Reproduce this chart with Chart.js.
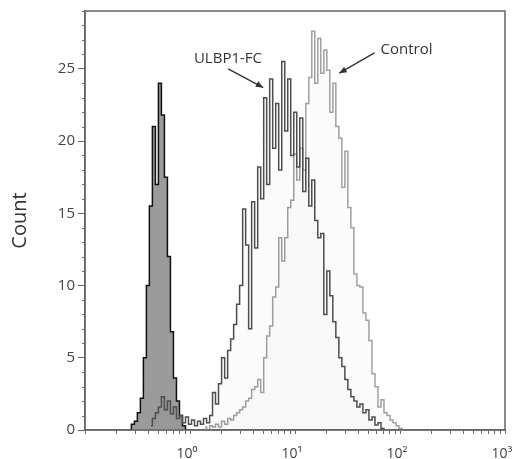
<!DOCTYPE html>
<html>
<head>
<meta charset="utf-8">
<script src="https://cdn.jsdelivr.net/npm/chart.js@4/dist/chart.umd.min.js"></script>
<style>
  html, body { margin: 0; padding: 0; background: #fff; }
  #wrap { width: 514px; height: 459px; }
</style>
</head>
<body>
<div id="wrap"><canvas id="c"></canvas></div>
<script>
// fluorescence channels (log scale, shared by all three histograms)
const channels = [
  0.267, 0.286, 0.305, 0.326, 0.348, 0.372, 0.397, 0.424, 0.453, 0.484,
  0.517, 0.552, 0.590, 0.630, 0.673, 0.719, 0.768, 0.820, 0.877, 0.936,
  1.00, 1.07, 1.14, 1.22, 1.30, 1.39, 1.49, 1.59, 1.69, 1.81,
  1.93, 2.07, 2.21, 2.36, 2.52, 2.69, 2.87, 3.07, 3.28, 3.50,
  3.74, 3.99, 4.27, 4.56, 4.87, 5.20, 5.55, 5.93, 6.34, 6.77,
  7.23, 7.73, 8.25, 8.81, 9.41, 10.05, 10.74, 11.47, 12.25, 13.09,
  13.98, 14.93, 15.95, 17.04, 18.20, 19.44, 20.77, 22.18, 23.70, 25.31,
  27.04, 28.88, 30.85, 32.96, 35.20, 37.61, 40.17, 42.91, 45.84, 48.97,
  52.31, 55.88, 59.69, 63.76, 68.11, 72.76, 77.72, 83.02, 88.69, 94.74,
  101.2, 108.1
];

// isotype (filled) starts at channel 0
const isotypeStart = 0;
const isotype = [
  0, 0.4, 0.6, 1.2, 2.2, 5.0, 10.0, 15.5, 21.0, 17.0,
  24.0, 21.8, 17.5, 12.0, 6.8, 3.6, 2.0, 1.0, 0.3, 0
];

// ULBP1-FC starts at channel 7
const ulbp1Start = 7;
const ulbp1 = [
  0.3, 0.8, 1.2, 1.6, 2.3, 1.4, 2.0, 1.1, 1.6, 0.8,
  1.0, 0.5, 0.9, 0.4, 0.7, 0.3, 0.6, 0.4, 0.8, 0.5,
  1.0, 2.6, 1.8, 3.2, 5.0, 3.6, 5.5, 6.3, 7.3, 8.7,
  10.0, 15.3, 12.8, 7.0, 15.8, 12.6, 18.2, 16.0, 23.0, 17.0,
  24.3, 19.5, 22.6, 18.0, 25.5, 20.7, 24.3, 19.0, 22.0, 18.2,
  21.6, 16.5, 18.8, 15.5, 17.3, 14.5, 13.3, 13.6, 8.0, 11.0,
  9.3, 7.5, 6.4, 5.0, 4.4, 3.5, 2.8, 2.3, 2.0, 1.6,
  1.8, 1.2, 1.4, 0.7, 0.9, 0.35, 0.5, 0.1, 0
];

// Control starts at channel 25
const controlStart = 25;
const control = [
  0.2, 0, 0.3, 0.2, 0.4, 0.2, 0.6, 0.4, 0.8, 0.7,
  1.0, 1.2, 1.4, 1.6, 2.0, 2.2, 2.8, 3.0, 3.5, 2.6,
  5.0, 6.5, 7.2, 9.2, 9.9, 13.3, 11.7, 13.3, 15.4, 15.9,
  19.1, 17.3, 19.5, 18.0, 22.6, 24.4, 27.6, 24.0, 27.1, 24.7,
  26.3, 24.9, 22.0, 24.0, 21.0, 20.2, 16.8, 19.3, 15.4, 14.0,
  10.8, 10.0, 9.9, 8.1, 7.6, 6.2, 3.9, 3.0, 1.6, 2.1,
  1.2, 1.0, 0.7, 0.5, 0.3, 0.1, 0
];

const xTicks = [
  0.1, 0.2, 0.3, 0.4, 0.5, 0.6, 0.7, 0.8, 0.9,
  1, 2, 3, 4, 5, 6, 7, 8, 9,
  10, 20, 30, 40, 50, 60, 70, 80, 90,
  100, 200, 300, 400, 500, 600, 700, 800, 900, 1000
];
const xLabels = { 1: '10⁰', 10: '10¹', 100: '10²', 1000: '10³' };
const yLabels = [0, 5, 10, 15, 20, 25];

// arrow callouts, in data units
const callouts = [
  { text: 'ULBP1-FC', at: [1.09, 25.4], from: [2.31, 25.0], to: [4.98, 23.7] },
  { text: 'Control', at: [65.2, 26.0], from: [57.1, 26.1], to: [26.4, 24.7] }
];

const FONT = '"Open Sans", "DejaVu Sans", sans-serif';

function toPoints(counts, start) {
  return counts.map((c, i) => ({ x: channels[start + i], y: c }));
}

const framePlugin = {
  id: 'frame',
  afterDraw(chart) {
    const { ctx, chartArea: a, scales: { x, y } } = chart;
    ctx.save();
    ctx.strokeStyle = '#666';
    ctx.lineWidth = 1.5;
    ctx.strokeRect(a.left, a.top, a.right - a.left, a.bottom - a.top);

    // minor y ticks
    ctx.lineWidth = 1;
    ctx.beginPath();
    y.ticks.forEach(t => {
      if (yLabels.includes(t.value)) return;
      const py = Math.round(y.getPixelForValue(t.value)) + 0.5;
      ctx.moveTo(a.left - 3, py);
      ctx.lineTo(a.left, py);
    });
    ctx.stroke();

    // callouts
    ctx.fillStyle = '#333';
    ctx.strokeStyle = '#333';
    ctx.font = '15px ' + FONT;
    ctx.textBaseline = 'alphabetic';
    callouts.forEach(c => {
      ctx.fillText(c.text, x.getPixelForValue(c.at[0]), y.getPixelForValue(c.at[1]));
      const x0 = x.getPixelForValue(c.from[0]), y0 = y.getPixelForValue(c.from[1]);
      const x1 = x.getPixelForValue(c.to[0]), y1 = y.getPixelForValue(c.to[1]);
      const ang = Math.atan2(y1 - y0, x1 - x0);
      ctx.lineWidth = 1.4;
      ctx.beginPath();
      ctx.moveTo(x0, y0);
      ctx.lineTo(x1, y1);
      ctx.stroke();
      ctx.beginPath();
      ctx.moveTo(x1, y1);
      ctx.lineTo(x1 - 8 * Math.cos(ang - 0.4), y1 - 8 * Math.sin(ang - 0.4));
      ctx.lineTo(x1 - 8 * Math.cos(ang + 0.4), y1 - 8 * Math.sin(ang + 0.4));
      ctx.closePath();
      ctx.fill();
    });
    ctx.restore();
  }
};

new Chart(document.getElementById('c'), {
  type: 'line',
  data: {
    datasets: [
      {
        label: 'ULBP1-FC',
        data: toPoints(ulbp1, ulbp1Start),
        borderColor: '#4d4d4d',
        borderWidth: 1.5,
        backgroundColor: 'rgba(0,0,0,0.015)',
        fill: 'origin',
        stepped: 'middle',
        pointRadius: 0,
        order: 0
      },
      {
        label: 'Control',
        data: toPoints(control, controlStart),
        borderColor: '#a0a0a0',
        borderWidth: 1.5,
        backgroundColor: 'rgba(0,0,0,0.015)',
        fill: 'origin',
        stepped: 'middle',
        pointRadius: 0,
        order: 1
      },
      {
        label: 'Isotype',
        data: toPoints(isotype, isotypeStart),
        borderColor: '#111',
        borderWidth: 1.5,
        backgroundColor: '#9b9b9b',
        fill: 'origin',
        stepped: 'middle',
        pointRadius: 0,
        order: 2
      }
    ]
  },
  options: {
    responsive: true,
    maintainAspectRatio: false,
    animation: false,
    layout: { padding: { top: 11, right: 9, left: 0, bottom: 0 } },
    plugins: {
      legend: { display: false },
      tooltip: { enabled: false }
    },
    scales: {
      x: {
        type: 'logarithmic',
        min: 0.1,
        max: 1000,
        afterBuildTicks: s => { s.ticks = xTicks.map(v => ({ value: v })); },
        afterFit: s => { s.height = 29; s.paddingLeft = 0; s.paddingRight = 0; },
        border: { color: '#666', width: 1.5 },
        grid: { drawOnChartArea: false, tickLength: 4, tickColor: '#666' },
        ticks: {
          autoSkip: false,
          maxRotation: 0,
          padding: 12,
          labelOffset: -3,
          color: '#444',
          font: { family: FONT, size: 14 },
          callback: v => xLabels[v] || ''
        }
      },
      y: {
        min: 0,
        max: 29,
        afterBuildTicks: s => {
          const t = [];
          for (let v = 0; v <= 29; v++) t.push({ value: v });
          s.ticks = t;
        },
        afterFit: s => { s.width = 85; s.paddingTop = 0; s.paddingBottom = 0; },
        border: { color: '#666', width: 1.5 },
        grid: {
          drawOnChartArea: false,
          tickLength: 7,
          tickColor: c => yLabels.includes(c.tick.value) ? '#666' : 'rgba(0,0,0,0)'
        },
        ticks: {
          autoSkip: false,
          padding: 3,
          color: '#444',
          font: { family: FONT, size: 15 },
          callback: v => yLabels.includes(v) ? String(v) : ''
        },
        title: {
          display: true,
          text: 'Count',
          color: '#333',
          font: { family: FONT, size: 20 },
          padding: { top: 8, bottom: 0 }
        }
      }
    }
  },
  plugins: [framePlugin]
});
</script>
</body>
</html>
